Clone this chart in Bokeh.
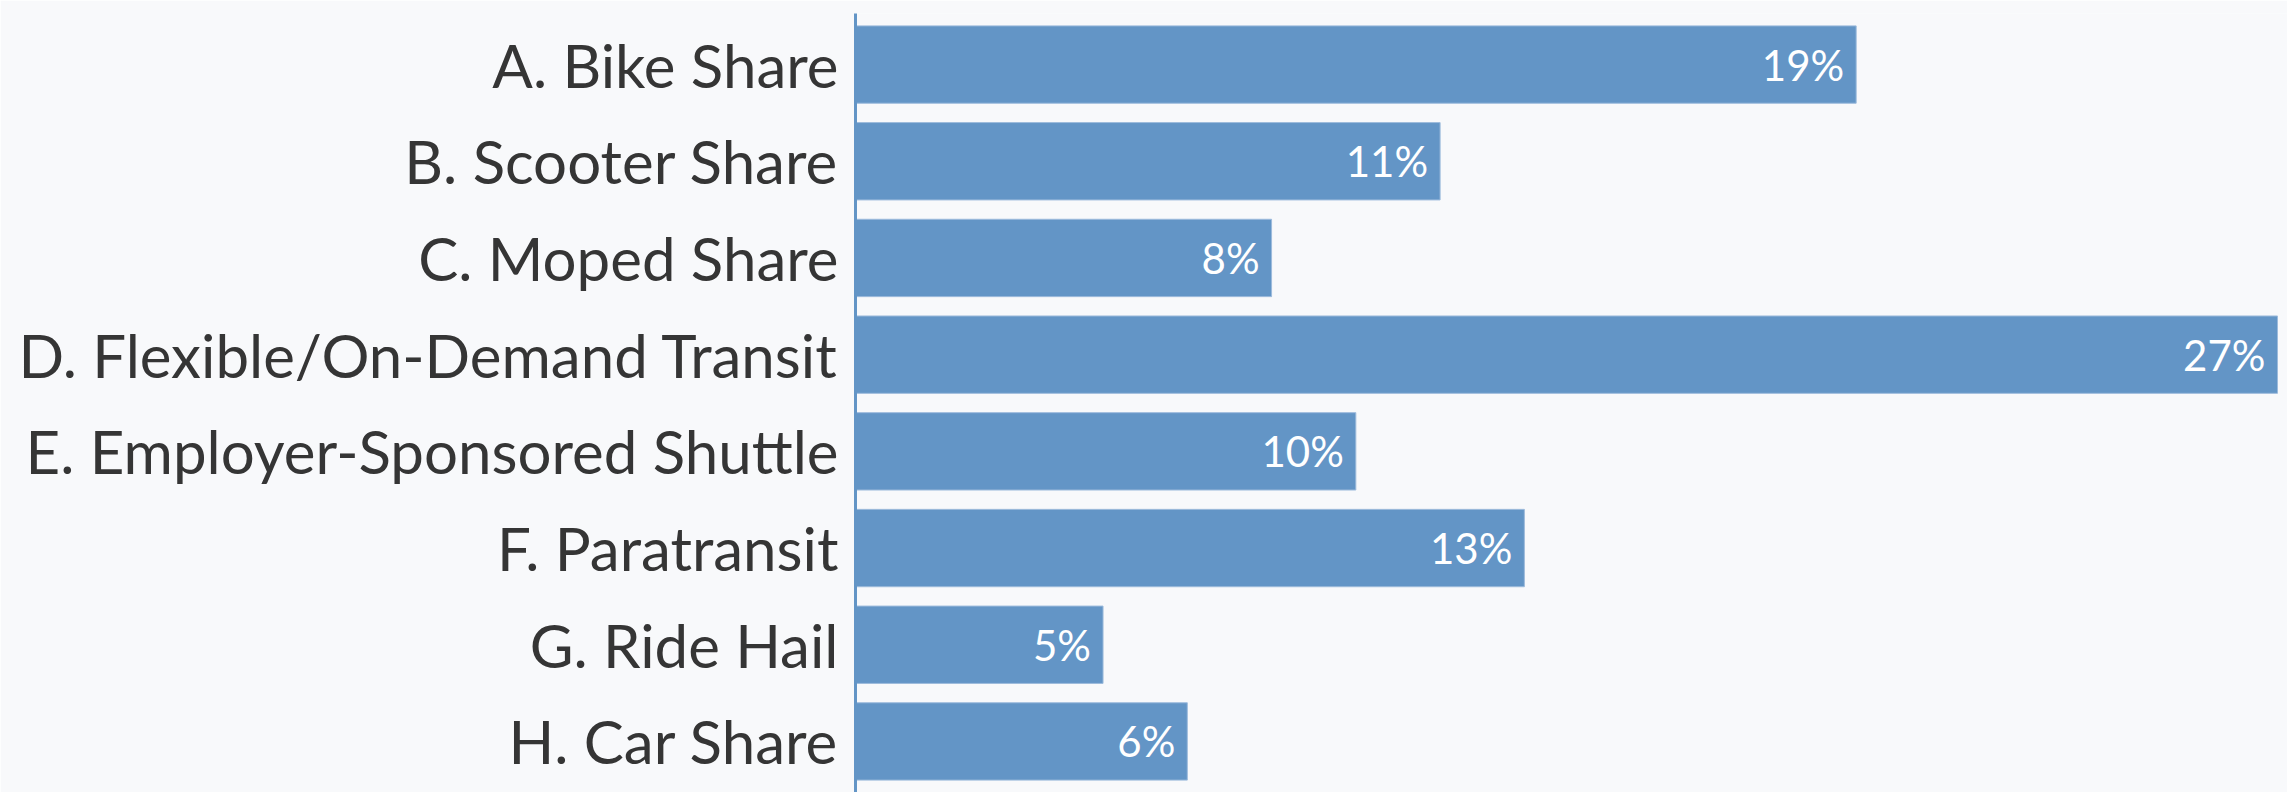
from bokeh.plotting import figure
from bokeh.models import ColumnDataSource, Range1d, FactorRange
from bokeh.core.properties import value
from bokeh.embed import file_html
from bokeh.resources import INLINE

categories = [
    "A. Bike Share",
    "B. Scooter Share",
    "C. Moped Share",
    "D. Flexible/On-Demand Transit",
    "E. Employer-Sponsored Shuttle",
    "F. Paratransit",
    "G. Ride Hail",
    "H. Car Share",
]
values = [19.0, 11.1, 7.9, 27.0, 9.5, 12.7, 4.7, 6.3]
labels = [f"{round(v):.0f}%" for v in values]

FONT = "Lato"
BG = "#F8F9FB"
BAR = "#6395C6"

src = ColumnDataSource(dict(cat=categories, val=values, lab=labels))

p = figure(
    width=2287, height=792,
    y_range=FactorRange(factors=categories[::-1], range_padding=0.007),
    x_range=Range1d(0, 27.19),
    output_backend="svg", toolbar_location=None,
    min_border_left=855, min_border_right=0, min_border_top=13, min_border_bottom=0,
    background_fill_color=BG, border_fill_color=BG,
)
p.outline_line_color = None
p.grid.visible = False
p.xaxis.visible = False

p.hbar(y="cat", right="val", left=0, height=0.8, source=src,
       fill_color=BAR, line_color="#9dbbdc", line_width=1)

p.text(x="val", y="cat", text="lab", source=src,
       text_align="right", text_baseline="middle", x_offset=-12,
       text_color="white", text_font=value(FONT), text_font_size="42px")

ax = p.yaxis[0]
ax.axis_line_color = BAR
ax.axis_line_width = 3
ax.major_tick_line_color = None
ax.minor_tick_line_color = None
ax.major_tick_out = 0
ax.major_tick_in = 0
ax.major_label_standoff = 17
ax.major_label_text_font = FONT
ax.major_label_text_font_size = "60px"
ax.major_label_text_color = "#353535"

open("out.html", "w").write(file_html(p, INLINE))
